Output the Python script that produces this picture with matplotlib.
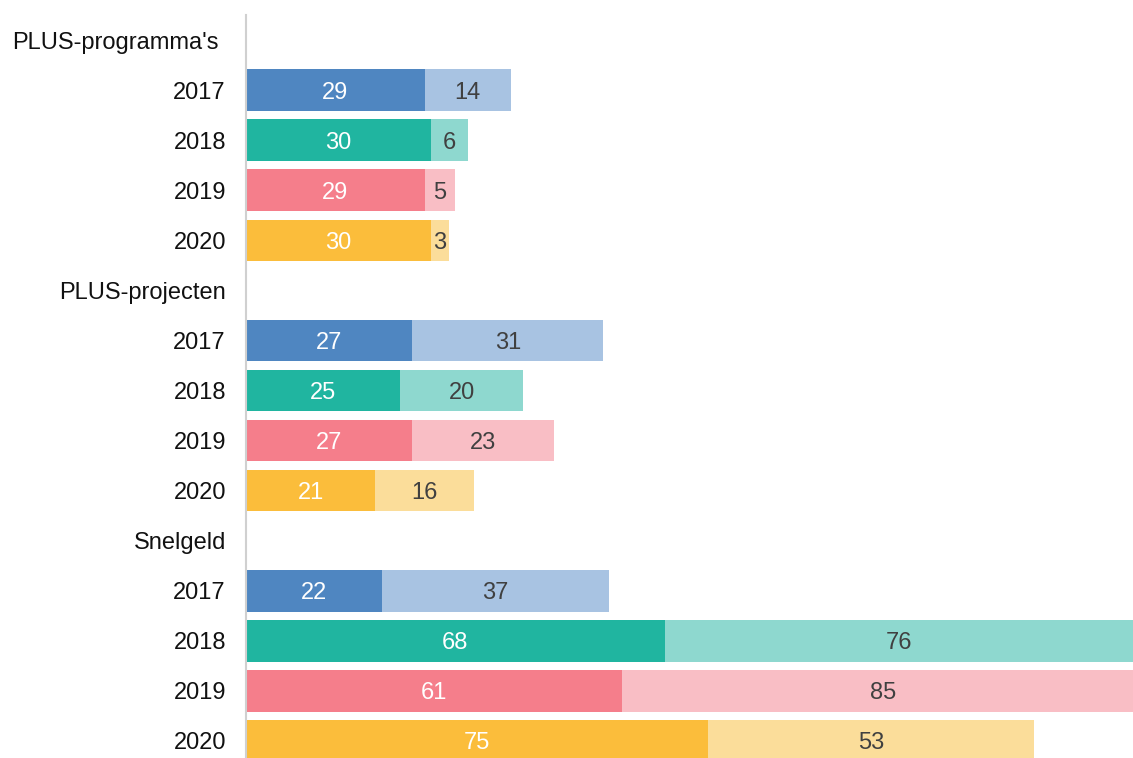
import matplotlib
matplotlib.use("Agg")
import matplotlib.pyplot as plt

plt.rcParams['font.family'] = ['Liberation Sans', 'DejaVu Sans']

groups = ["PLUS-programma's", "PLUS-projecten", "Snelgeld"]
years = ["2017", "2018", "2019", "2020"]
dark_values = [[29, 30, 29, 30], [27, 25, 27, 21], [22, 68, 61, 75]]
light_values = [[14, 6, 5, 3], [31, 20, 23, 16], [37, 76, 85, 53]]

dark_colors = ["#4F86C1", "#20B5A0", "#F57E8B", "#FBBD3B"]
light_colors = ["#A8C3E2", "#8ED8CF", "#F9BEC5", "#FBDD9A"]

FS = 17

fig = plt.figure(figsize=(11.33, 7.58), dpi=100)
ax = fig.add_axes([246/1133, 0, (1133-246)/1133, (758-15)/758])

px = 144 / 887  # data units per pixel
row = 0
for gi, g in enumerate(groups):
    off = 27 if gi == 0 else 20
    ax.text(-off * px, row, g, ha='right', va='center_baseline',
            fontsize=FS, color='#111111')
    row += 1
    for yi, yr in enumerate(years):
        d = dark_values[gi][yi]
        l = light_values[gi][yi]
        ax.barh(row, d, height=0.83, color=dark_colors[yi], linewidth=0)
        ax.barh(row, l, left=d, height=0.83, color=light_colors[yi], linewidth=0)
        ax.text(d / 2, row, str(d), ha='center', va='center_baseline',
                fontsize=FS, color='white')
        ax.text(d + l / 2, row, str(l), ha='center', va='center_baseline',
                fontsize=FS, color='#404040')
        ax.text(-20 * px, row, yr, ha='right', va='center_baseline',
                fontsize=FS, color='#111111')
        row += 1

ax.set_xlim(0, 144)
ax.set_ylim(14.34, -0.5)
ax.set_xticks([])
ax.set_yticks([])
for s in ['top', 'right', 'bottom']:
    ax.spines[s].set_visible(False)
ax.spines['left'].set_color('#d0d0d0')
ax.spines['left'].set_linewidth(1.5)

fig.savefig("out.png", dpi=100)
